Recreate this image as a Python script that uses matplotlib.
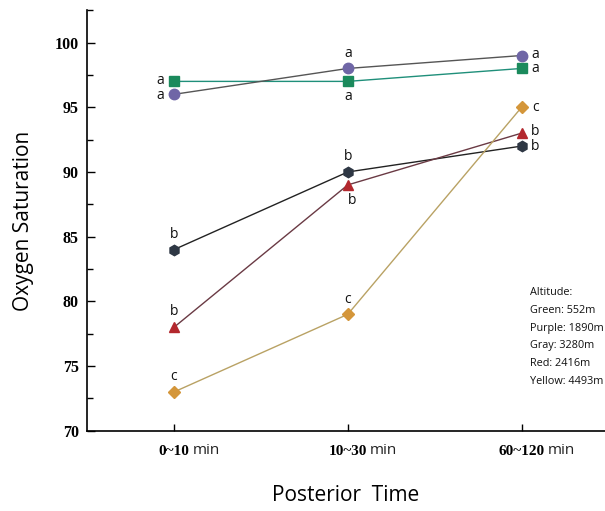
import matplotlib.pyplot as plt
from matplotlib.ticker import MultipleLocator

# categories on the x axis
times = ['0~10', '10~30', '60~120']

# oxygen saturation per altitude group
green = [97, 97, 98]
purple = [96, 98, 99]
gray = [84, 90, 92]
red = [78, 89, 93]
yellow = [73, 79, 95]

# significance letters
green_sig = ['a', 'a', 'a']
purple_sig = ['a', 'a', 'a']
gray_sig = ['b', 'b', 'b']
red_sig = ['b', 'b', 'b']
yellow_sig = ['c', 'c', 'c']

notes = ['Altitude:', 'Green: 552m', 'Purple: 1890m', 'Gray: 3280m',
         'Red: 2416m', 'Yellow: 4493m']

fig = plt.figure(figsize=(6.05, 5.11), dpi=100)
ax = fig.add_axes([0.144, 0.157, 0.856, 0.823])

x = list(range(len(times)))

series = [
    (green, green_sig, 's', '#1b8a5c', '#1f8f7a', 6.5),
    (purple, purple_sig, 'o', '#6f66a6', '#555555', 7.5),
    (gray, gray_sig, 'h', '#2e3744', '#222222', 7.5),
    (red, red_sig, '^', '#b3282e', '#6a3a44', 7.5),
    (yellow, yellow_sig, 'D', '#d4963a', '#b9a264', 6.5),
]
for vals, sig, mk, mc, lc, ms in series:
    ax.plot(x, vals, color=lc, lw=1.0, zorder=2)
    ax.plot(x, vals, ls='none', marker=mk, ms=ms, color=mc, zorder=3)

# letter placement (offset in points) for each series / point
offsets = {
    'green': [(-10, 0.5), (0, -11), (10, 0)],
    'purple': [(-10, -0.5), (0, 11), (10, 0.5)],
    'gray': [(0, 11), (0, 11), (10, -0.5)],
    'red': [(0, 11), (3, -11), (10, 1)],
    'yellow': [(0, 11), (0, 11), (10, 0)],
}
for name, (vals, sig, *_rest) in zip(offsets, series):
    for i, (v, s) in enumerate(zip(vals, sig)):
        dx, dy = offsets[name][i]
        ax.annotate(s, (x[i], v), xytext=(dx, dy), textcoords='offset points',
                    ha='center', va='center', fontsize=10, family='Open Sans',
                    color='#111111')

for j, t in enumerate(notes):
    ax.text(0.855, 0.328 - j * 0.042, t, transform=ax.transAxes, fontsize=7.8,
            family='Open Sans', color='#111111', va='center')

ax.set_xlim(-0.5, 2.48)
ax.set_ylim(70, 102.5)
ax.yaxis.set_major_locator(MultipleLocator(5))
ax.yaxis.set_minor_locator(MultipleLocator(2.5))
ax.set_xticks(x)
ax.set_xticklabels(times, family='Liberation Serif', fontweight='bold', fontsize=11)
for lab in ax.get_yticklabels():
    lab.set_family('Liberation Serif')
    lab.set_fontweight('bold')
    lab.set_fontsize(11.5)
ax.tick_params(axis='y', which='major', direction='in', length=6, width=1, pad=6)
ax.tick_params(axis='y', which='minor', direction='in', length=4, width=1)
ax.tick_params(axis='x', direction='in', length=5, width=1, pad=10)

for sp in ['top', 'right']:
    ax.spines[sp].set_visible(False)
for sp in ['left', 'bottom']:
    ax.spines[sp].set_linewidth(1.2)

ax.set_ylabel('Oxygen Saturation', family='Open Sans', fontsize=15, labelpad=15)
ax.set_xlabel('Posterior  Time', family='Open Sans', fontsize=15, labelpad=20)

# add "min" after each bold tick label
fig.canvas.draw()
r = fig.canvas.get_renderer()
for lab in ax.get_xticklabels():
    bb = lab.get_window_extent(r)
    xf, yf = fig.transFigure.inverted().transform((bb.x1 + 3, (bb.y0 + bb.y1) / 2 + 1))
    fig.text(xf, yf, 'min', family='Open Sans', fontsize=11, va='center', ha='left',
             color='#222222')

fig.savefig('out.png', dpi=100)
